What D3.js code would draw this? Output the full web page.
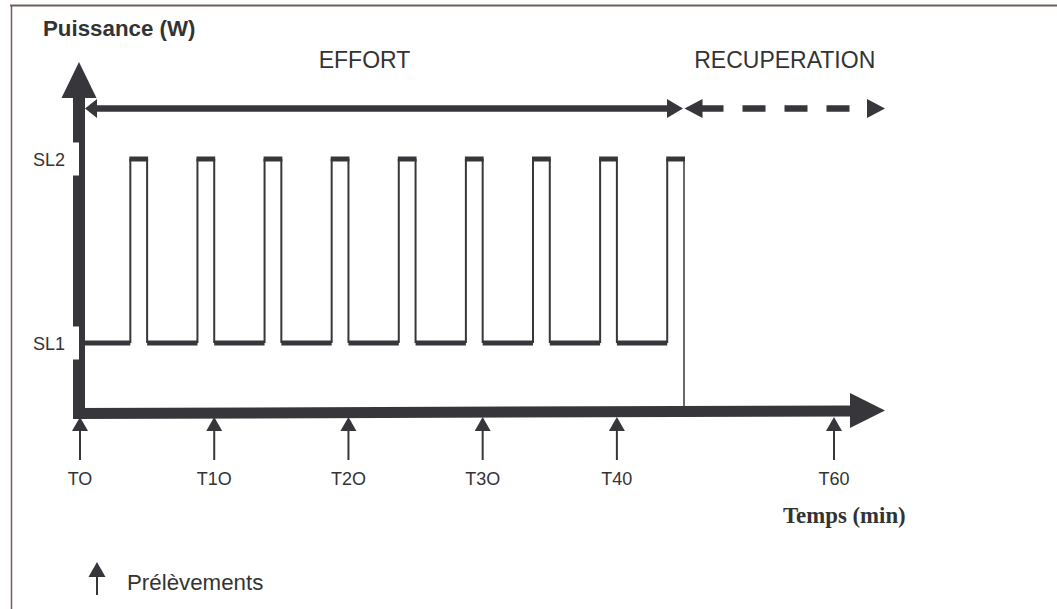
<!DOCTYPE html>
<html>
<head>
<meta charset="utf-8">
<script src="https://cdn.jsdelivr.net/npm/d3@7/dist/d3.min.js"></script>
<style>
  html, body { margin: 0; padding: 0; background: #fff; }
  svg { display: block; }
</style>
</head>
<body>
<svg id="chart" width="1057" height="609"></svg>
<script>
// ---- data ----
const sampleLabels = ["TO", "T1O", "T2O", "T3O", "T40", "T60"];
const sampleTimes = [0, 10, 20, 30, 40, 60];           // minutes
const pulseStart = [3.75, 8.75, 13.75, 18.75, 23.75, 28.75, 33.75, 38.75, 43.75];
const pulseEnd   = [5, 10, 15, 20, 25, 30, 35, 40, 45];
const levelNames = ["SL1", "SL2"];
const levelValues = [1, 2];
const effortEnd = 45;          // minutes
const axisEnd = 65.1;          // minutes (arrow tip)
const phaseNames = ["EFFORT", "RECUPERATION"];
const phaseStart = [0, 45];
const phaseEnd = [45, 65.1];
const yTitle = "Puissance (W)";
const xTitle = "Temps (min)";
const legendText = "Prélèvements";

// ---- scales ----
const x = d3.scaleLinear().domain([0, 45, 60]).range([80, 684, 834]);
const y = d3.scaleLinear().domain([0, 1, 2]).range([412, 343, 159]);

const dark = "#37363b";
const textCol = "#333";
const sans = "Liberation Sans, Arial, sans-serif";
const svg = d3.select("#chart");

// frame
svg.append("line").attr("x1", 10).attr("x2", 1057).attr("y1", 5.5).attr("y2", 5.5)
  .attr("stroke", "#6b615c").attr("stroke-width", 2);
svg.append("line").attr("x1", 11.5).attr("x2", 11.5).attr("y1", 5).attr("y2", 609)
  .attr("stroke", "#6b615c").attr("stroke-width", 1.5);

// ---- square wave ----
const thick = 5, thin = 2;
const segsH = [];  // horizontal segments [t0,t1,level]
const segsV = [];  // vertical edges [t, l0, l1]
let prev = 0;
pulseStart.forEach((s, i) => {
  segsH.push([prev, s, levelValues[0]]);
  segsV.push([s, levelValues[0], levelValues[1]]);
  segsH.push([s, pulseEnd[i], levelValues[1]]);
  if (i < pulseStart.length - 1) segsV.push([pulseEnd[i], levelValues[1], levelValues[0]]);
  prev = pulseEnd[i];
});
svg.append("g").selectAll("line").data(segsH).join("line")
  .attr("x1", d => x(d[0]) - (d[2] === 2 ? 1 : 0)).attr("x2", d => x(d[1]) + (d[2] === 2 ? 1 : 0))
  .attr("y1", d => y(d[2])).attr("y2", d => y(d[2]))
  .attr("stroke", dark).attr("stroke-width", thick);
svg.append("g").selectAll("line").data(segsV).join("line")
  .attr("x1", d => x(d[0])).attr("x2", d => x(d[0]))
  .attr("y1", d => y(d[1])).attr("y2", d => y(d[2]))
  .attr("stroke", dark).attr("stroke-width", thin);
// final drop to the axis at end of effort
svg.append("line").attr("x1", x(effortEnd)).attr("x2", x(effortEnd))
  .attr("y1", y(2)).attr("y2", y(0) - 5)
  .attr("stroke", dark).attr("stroke-width", 1.5);

// ---- axes ----
const x0 = x(0) - 1;
// y axis bar + arrow
svg.append("line").attr("x1", x0).attr("x2", x0).attr("y1", 97).attr("y2", 419)
  .attr("stroke", dark).attr("stroke-width", 12);
svg.append("path").attr("d", `M${x0},62 L${x0 + 17.5},98 L${x0 - 17.5},98 Z`).attr("fill", dark);
// x axis bar + arrow
const xa = x(axisEnd);
svg.append("line").attr("x1", x0 - 6).attr("y1", 413.5).attr("x2", xa - 33).attr("y2", 411)
  .attr("stroke", dark).attr("stroke-width", 11);
svg.append("path").attr("d", `M${xa},410.5 L${xa - 35},393 L${xa - 35},428 Z`).attr("fill", dark);

// level labels with white boxes
levelNames.forEach((n, i) => {
  const yy = y(levelValues[i]);
  svg.append("rect").attr("x", 20).attr("y", yy - 16.5).attr("width", x0 - 20).attr("height", 33).attr("fill", "#fff");
  svg.append("text").attr("x", 33).attr("y", yy + 6.5).text(n)
    .attr("font-family", sans).attr("font-size", 18).attr("fill", textCol);
});

// sampling arrows
function upArrow(g, cx, tip, base, bottom, hw) {
  g.append("path").attr("d", `M${cx},${tip} L${cx + hw},${base} L${cx - hw},${base} Z`).attr("fill", dark);
  g.append("line").attr("x1", cx).attr("x2", cx).attr("y1", base).attr("y2", bottom)
    .attr("stroke", dark).attr("stroke-width", 2);
}
const sg = svg.append("g");
sampleTimes.forEach((t, i) => {
  upArrow(sg, x(t), 417, 431, 460, 8);
  sg.append("text").attr("x", x(t)).attr("y", 485).attr("text-anchor", "middle")
    .text(sampleLabels[i])
    .attr("font-family", sans).attr("font-size", 18).attr("fill", textCol);
});

// ---- phase arrows ----
const ay = 108.5;
// EFFORT: solid double arrow
const e0 = x(phaseStart[0]) + 5, e1 = x(phaseEnd[0]) - 1;
svg.append("line").attr("x1", e0 + 10).attr("x2", e1 - 14).attr("y1", ay).attr("y2", ay)
  .attr("stroke", dark).attr("stroke-width", 6.5);
svg.append("path").attr("d", `M${e0},${ay} L${e0 + 12},${ay - 9.5} L${e0 + 12},${ay + 9.5} Z`).attr("fill", dark);
svg.append("path").attr("d", `M${e1},${ay} L${e1 - 16},${ay - 9.5} L${e1 - 16},${ay + 9.5} Z`).attr("fill", dark);
// RECUPERATION: dashed double arrow
const r0 = x(phaseStart[1]) + 0.5, r1 = x(phaseEnd[1]);
svg.append("path").attr("d", `M${r0},${ay} L${r0 + 18},${ay - 9.5} L${r0 + 18},${ay + 9.5} Z`).attr("fill", dark);
svg.append("line").attr("x1", r0 + 16).attr("x2", r1 - 18).attr("y1", ay).attr("y2", ay)
  .attr("stroke", dark).attr("stroke-width", 6.5).attr("stroke-dasharray", "23,19");
svg.append("path").attr("d", `M${r1},${ay} L${r1 - 18},${ay - 9.5} L${r1 - 18},${ay + 9.5} Z`).attr("fill", dark);

svg.append("text").attr("x", 364.5).attr("y", 68).attr("text-anchor", "middle")
  .text(phaseNames[0]).attr("font-family", sans)
  .attr("font-size", 23).attr("fill", textCol);
svg.append("text").attr("x", (r0 + r1) / 2).attr("y", 68).attr("text-anchor", "middle")
  .text(phaseNames[1]).attr("font-family", sans)
  .attr("font-size", 23).attr("fill", textCol);

// titles
svg.append("text").attr("x", 43).attr("y", 36).text(yTitle)
  .attr("font-family", sans).attr("font-weight", "bold")
  .attr("font-size", 22.3).attr("fill", textCol);
svg.append("text").attr("x", 783).attr("y", 523).text(xTitle)
  .attr("font-family", "Liberation Serif, Times New Roman, serif").attr("font-weight", "bold")
  .attr("font-size", 22.8).attr("fill", textCol);

// legend
upArrow(svg, 97, 562, 577, 595, 8.5);
svg.append("text").attr("x", 127).attr("y", 590).text(legendText)
  .attr("font-family", sans).attr("font-size", 22.3).attr("fill", textCol);
</script>
</body>
</html>
